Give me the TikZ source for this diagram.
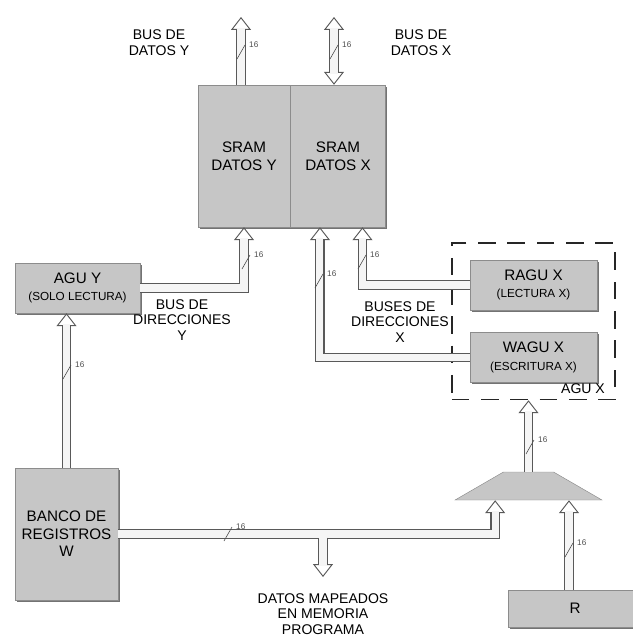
\documentclass[tikz,border=0pt]{standalone}
\usepackage{fontspec}
\setmainfont{Liberation Sans}
\usetikzlibrary{arrows.meta,positioning,shapes.geometric,shadows,fit}

\newcommand{\subfont}{\fontsize{10}{12}\selectfont}
\newcommand{\buswidth}[3]{%
  \draw[line width=0.5pt, black!70] (#1-4,#2+7) -- (#1+4,#2-7)
    node[right=0pt, font=\fontsize{7}{8}\selectfont] {#3};}

\begin{document}
\begin{tikzpicture}[
    x=0.03cm, y=-0.03cm,
    block/.style={rectangle, draw=black!45, fill=gray!45, align=center, inner sep=2pt, font=\fontsize{13}{15}\selectfont, drop shadow={shadow xshift=1.5pt, shadow yshift=-1.5pt, fill=black!55, opacity=1}},
    mux/.style={trapezium, trapezium angle=46, trapezium stretches=true, minimum width=4.41cm, minimum height=0.84cm, inner sep=2pt, draw=black!45, fill=gray!45},
    agubox/.style={draw=black!85, line width=1.5pt, dash pattern=on 15pt off 10pt},
    caption/.style={align=center, font=\fontsize{12}{13.5}\selectfont},
    bushead/.tip={Triangle[fill=white, width=17pt, length=11pt, line width=0.8pt]},
    busline/.style={draw=black!65, line width=8pt},
    bus/.style={busline, -bushead, postaction={draw=gray!8, line width=6pt, arrows=-, shorten >=9pt}},
    bibus/.style={busline, bushead-bushead, postaction={draw=gray!8, line width=6pt, arrows=-, shorten >=9pt, shorten <=9pt}}
]
\useasboundingbox (0,0) rectangle (632,642);

\node [block, minimum width=2.76cm, minimum height=4.26cm] (sramy) at (244,156) {SRAM\\DATOS Y};
\node [block, minimum width=2.85cm, minimum height=4.26cm, right=0pt of sramy] (sramx) {SRAM\\DATOS X};
\node [block, minimum width=3.75cm, minimum height=1.5cm] (aguy) at (77.5,288) {AGU Y\\{\subfont (SOLO LECTURA)}};
\node [block, minimum width=3.81cm, minimum height=1.5cm] (ragux) at (533.5,285) {RAGU X\\{\subfont (LECTURA X)}};
\node [block, minimum width=3.81cm, minimum height=1.5cm, below=0.66cm of ragux] (wagux) {WAGU X\\{\subfont (ESCRITURA X)}};
\node [agubox, fit=(ragux)(wagux), inner xsep=0.54cm, inner ysep=0.5cm] (aguxbox) {};
\node [anchor=south east, inner sep=0pt, font=\fontsize{12}{14}\selectfont] (aguxlbl) at ([xshift=-0.33cm, yshift=0.2cm]aguxbox.south east) {AGU X};
\node [block, minimum width=3.09cm, minimum height=3.96cm] (banco) at (66.5,534) {BANCO DE\\REGISTROS\\W};
\node [mux] (mux) at (528.5,486) {};
\node [block, minimum width=4.0cm, minimum height=1.11cm] (rbox) at (575,608.5) {R};

\node [caption] (dybus) at (159,43) {BUS DE\\DATOS Y};
\node [caption] (dxbus) at (421,43) {BUS DE\\DATOS X};
\node [caption] (diry) at (182,320) {BUS DE\\DIRECCIONES\\Y};
\node [caption] (dirx) at (400,322) {BUSES DE\\DIRECCIONES\\X};
\node [caption] (datmap) at (323,614) {DATOS MAPEADOS\\EN MEMORIA\\PROGRAMA};

\coordinate (dyout) at (241,17);
\coordinate (dxout) at (334,17);
\coordinate (mapin) at (323,577);
\coordinate (tap) at (banco.east -| mapin);
\coordinate (rin) at ([xshift=-0.18cm]rbox.north);

\draw [bus] (dyout |- sramy.north) -- (dyout);
\draw [bibus] (dxout |- sramx.north) -- (dxout);
\draw [bus] (aguy.east) -| (sramy.south);
\draw [bus] (banco.north) -- (banco.north |- aguy.south);
\draw [bus] (ragux.west) -| ([xshift=0.735cm]sramx.south);
\draw [bus] (wagux.west) -| ([xshift=-0.54cm]sramx.south);
\draw [bus] (mux.north) -- (mux.north |- aguxbox.south);
\draw [bus] (banco.east) -| ([xshift=-1cm]mux.south);
\draw [bus] ([yshift=-3pt]tap) -- (mapin);
\draw [bus] (rin) -- (rin |- mux.south);

\buswidth{241}{52}{16}
\buswidth{334}{52}{16}
\buswidth{246}{262}{16}
\buswidth{67}{372}{16}
\buswidth{319}{281}{16}
\buswidth{362}{262}{16}
\buswidth{530}{447}{16}
\buswidth{228}{534}{16}
\buswidth{569}{550}{16}

\end{tikzpicture}
\end{document}
